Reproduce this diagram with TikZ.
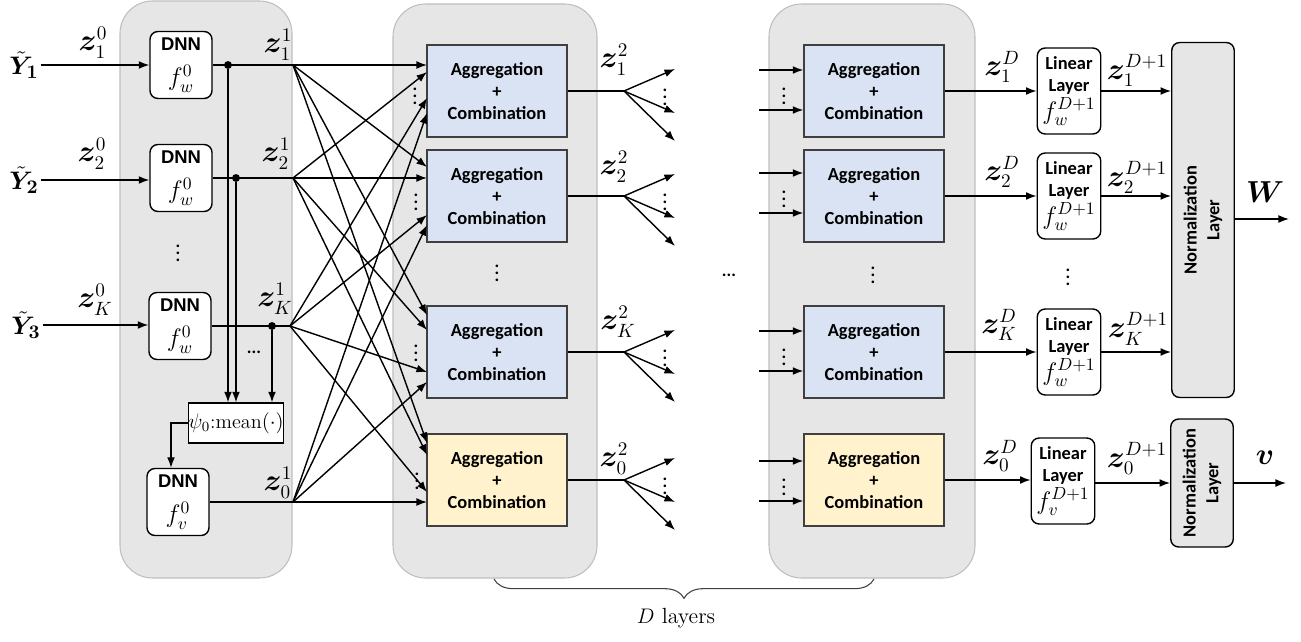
\documentclass[tikz,border=0pt]{standalone}
\usepackage{amsmath}
\usepackage{bm}
\usepackage{fontspec}
\newfontfamily\calib{Carlito}
\newfontfamily\arialf{Liberation Sans}
\usetikzlibrary{arrows.meta,decorations.pathreplacing}
\definecolor{panelgray}{HTML}{E7E6E6}
\definecolor{paneledge}{HTML}{BFBFBF}
\definecolor{aggblue}{HTML}{DAE3F3}
\definecolor{aggyellow}{HTML}{FFF2CC}
\definecolor{boxedge}{HTML}{3F3F3F}
\newcommand{\boxfont}{\calib\bfseries\fontsize{10.5}{12.5}\selectfont}
\newcommand{\dnntxt}{{\arialf\bfseries\fontsize{10.5}{12}\selectfont DNN}}
\tikzset{
    arr/.style={-{Latex[length=6pt,width=4.5pt]}, line width=0.8pt},
    ln/.style={line width=0.8pt},
    panel/.style={fill=panelgray, draw=paneledge, line width=0.6pt,
    	rounded corners=0.65cm},
    dnn/.style={draw, fill=white, rounded corners=4.5pt, line width=0.8pt,
    	minimum width=1.24cm, minimum height=1.34cm, inner sep=0pt,
    	align=center, font=\fontsize{14}{16}\selectfont},
    agg/.style={draw=boxedge, fill=aggblue, line width=0.8pt,
    	minimum width=2.8cm, minimum height=1.84cm, align=center, font=\boxfont},
    lin/.style={draw, fill=white, rounded corners=4.5pt, line width=0.8pt,
    	minimum width=1.27cm, minimum height=1.72cm, inner sep=0pt,
    	align=center, font=\boxfont},
    norm/.style={draw, fill=panelgray, rounded corners=4.5pt, line width=0.8pt,
    	minimum width=1.25cm},
    normtxt/.style={rotate=90, align=center, font=\calib\bfseries\fontsize{10.5}{13}\selectfont},
    zlab/.style={font=\fontsize{16}{18}\selectfont, inner sep=0pt},
    ylab/.style={font=\fontsize{15}{18}\selectfont, inner sep=1pt},
    vdot/.style={font=\calib\bfseries\fontsize{10}{12}\selectfont, inner sep=0pt},
    junction/.style={circle, fill, inner sep=0pt, minimum size=4.5pt}
}

\begin{document}
\begin{tikzpicture}[x=0.02cm, y=-0.02cm]
  \useasboundingbox (0,0) rectangle (1301,642);
  % panels
  \draw[panel] (120,1) rectangle (292,578);
  \draw[panel] (393,4) rectangle (597,578);
  \draw[panel] (769,4) rectangle (975,578);

  % input layer
  \node (y1) [ylab] at (24,65) {$\bm{\tilde{Y}_1}$};
  \node (y2) [ylab] at (24,180) {$\bm{\tilde{Y}_2}$};
  \node (y3) [ylab] at (26,325) {$\bm{\tilde{Y}_3}$};
  \node (dnn1) [dnn] at (181,65) {\dnntxt\\[4pt]$f_w^0$};
  \node (dnn2) [dnn] at (181,178) {\dnntxt\\[4pt]$f_w^0$};
  \node (dnnK) [dnn] at (180,326) {\dnntxt\\[4pt]$f_w^0$};
  \node (dnnv) [dnn] at (178,502) {\dnntxt\\[4pt]$f_v^0$};
  \node (mean) [draw, fill=white, line width=0.8pt, minimum width=1.88cm,
  	minimum height=0.8cm, inner sep=0pt, font=\fontsize{11.5}{13}\selectfont]
  	at (236,423) {$\psi_0$:mean$(\cdot)$};
  \node (vdl) [vdot] at (178,248) {$\vdots$};
  \node (hdl) [vdot] at (254,352) {...};

  \node (z10) [zlab] at (93,43) {$\bm{z}_1^0$};
  \node (z20) [zlab] at (92,154) {$\bm{z}_2^0$};
  \node (zK0) [zlab] at (95,300) {$\bm{z}_K^0$};
  \node (z11) [zlab] at (278,45) {$\bm{z}_1^1$};
  \node (z21) [zlab] at (276,154) {$\bm{z}_2^1$};
  \node (zK1) [zlab] at (275,299) {$\bm{z}_K^1$};
  \node (z01) [zlab] at (278,483) {$\bm{z}_0^1$};

  \draw[arr] (y1) -- (dnn1);
  \draw[arr] (y2) -- (y2 -| dnn2.west);
  \draw[arr] (y3) -- (y3 -| dnnK.west);

  \coordinate (s1) at (293,65);
  \coordinate (s2) at (293,178);
  \coordinate (sK) at (290,326);
  \coordinate (s0) at (293,502);
  \draw[ln] (dnn1.east) -- (s1);
  \draw[ln] (dnn2.east) -- (s2);
  \draw[ln] (dnnK.east) -- (sK);
  \draw[ln] (dnnv.east) -- (s0);
  \node (d1) [junction] at (228,65) {};
  \node (d2) [junction] at (236,178) {};
  \node (dK) [junction] at (272,326) {};
  \draw[arr] (d1) -- (d1 |- mean.north);
  \draw[arr] (d2) -- (d2 |- mean.north);
  \draw[arr] (dK) -- (dK |- mean.north);
  \coordinate (mt) at (171,423);
  \draw[arr] (mean.west) -- (mt) -- (mt |- dnnv.north);

  % first aggregation layer
  \node (agg1) [agg] at (497,91) {Aggregation\\+\\Combination};
  \node (agg2) [agg] at (497,196) {Aggregation\\+\\Combination};
  \node (aggK) [agg] at (497,352) {Aggregation\\+\\Combination};
  \node (agg0) [agg, fill=aggyellow] at (497,480) {Aggregation\\+\\Combination};
  \node (vdm) [vdot] at (497,268) {$\vdots$};

  \foreach \b/\ya/\yb/\yc/\yd in {1/65/72/98/113, 2/167/178/215/225,
  	K/315/330/372/382, 0/443/455/492/502} {
    \coordinate (i\b1) at (427,\ya);
    \coordinate (i\b2) at (427,\yb);
    \coordinate (i\b3) at (427,\yc);
    \coordinate (i\b4) at (427,\yd);
  }
  \foreach \b in {1,2,K,0} {
    \draw[arr] (s1) -- (i\b1);
    \draw[arr] (s2) -- (i\b2);
    \draw[arr] (sK) -- (i\b3);
    \draw[arr] (s0) -- (i\b4);
  }
  \node (vi1) [vdot] at (415,91) {$\vdots$};
  \node (vi2) [vdot] at (416,197) {$\vdots$};
  \node (viK) [vdot] at (416,348) {$\vdots$};
  \node (vi0) [vdot] at (417,476) {$\vdots$};

  \foreach \b/\y in {1/91, 2/196, K/352, 0/480} {
    \coordinate (f\b) at (624,\y);
    \coordinate (ta\b) at (675,{\y-22});
    \coordinate (tb\b) at (675,{\y+22});
    \coordinate (tc\b) at (675,{\y+50});
    \draw[ln] (agg\b.east) -- (f\b);
    \draw[arr] (f\b) -- (ta\b);
    \draw[arr] (f\b) -- (tb\b);
    \draw[arr] (f\b) -- (tc\b);
    \node (vf\b) [vdot] at (665,{\y+1}) {$\vdots$};
  }
  \node (z12) [zlab] at (614,60) {$\bm{z}_1^2$};
  \node (z22) [zlab] at (614,167) {$\bm{z}_2^2$};
  \node (zK2) [zlab] at (618,322) {$\bm{z}_K^2$};
  \node (z02) [zlab] at (614,459) {$\bm{z}_0^2$};
  \node (hdm) [vdot] at (729,275) {...};

  % last aggregation layer
  \node (aggD1) [agg] at (874,91) {Aggregation\\+\\Combination};
  \node (aggD2) [agg] at (874,196) {Aggregation\\+\\Combination};
  \node (aggDK) [agg] at (874,352) {Aggregation\\+\\Combination};
  \node (aggD0) [agg, fill=aggyellow] at (874,480) {Aggregation\\+\\Combination};
  \node (vdr) [vdot] at (873,270) {$\vdots$};
  \foreach \b/\y in {1/91, 2/194, K/352, 0/482} {
    \coordinate (ra\b) at (759,{\y-21});
    \coordinate (rb\b) at (759,{\y+19});
    \draw[arr] (ra\b) -- (ra\b -| aggD\b.west);
    \draw[arr] (rb\b) -- (rb\b -| aggD\b.west);
    \node (vr\b) [vdot] at (784,\y) {$\vdots$};
  }

  % output layers
  \node (lin1) [lin] at (1069,91) {Linear\\Layer\\[1pt]{\fontsize{14}{16}\selectfont$f_w^{D+1}$}};
  \node (lin2) [lin] at (1069,196) {Linear\\Layer\\[1pt]{\fontsize{14}{16}\selectfont$f_w^{D+1}$}};
  \node (linK) [lin] at (1069,352) {Linear\\Layer\\[1pt]{\fontsize{14}{16}\selectfont$f_w^{D+1}$}};
  \node (lin0) [lin] at (1063,481) {Linear\\Layer\\[1pt]{\fontsize{14}{16}\selectfont$f_v^{D+1}$}};
  \node (vdo) [vdot] at (1068,272) {$\vdots$};
  \node (normW) [norm, minimum height=7.1cm] at (1203,220) {};
  \node (normWt) [normtxt] at (normW) {Normalization\\Layer};
  \node (normv) [norm, minimum height=2.56cm] at (1202,483) {};
  \node (normvt) [normtxt] at (normv) {Normalization\\Layer};

  \foreach \b in {1,2,K} {
    \draw[arr] (aggD\b.east) -- (lin\b.west);
    \draw[arr] (lin\b.east) -- (lin\b.east -| normW.west);
  }
  \draw[arr] (aggD0.east) -- (aggD0.east -| lin0.west);
  \draw[arr] (lin0.east |- normv) -- (normv.west);
  \coordinate (wout) at (1289,219);
  \coordinate (vout) at (1286,483);
  \draw[arr] (normW.east |- wout) -- (wout);
  \draw[arr] (normv.east) -- (vout);
  \node (wlab) [zlab, font=\fontsize{18}{20}\selectfont] at (1265,192) {$\bm{W}$};
  \node (vlab) [zlab] at (1265,458) {$\bm{v}$};

  \node (z1D) [zlab] at (1002,67) {$\bm{z}_1^D$};
  \node (z2D) [zlab] at (1002,172) {$\bm{z}_2^D$};
  \node (zKD) [zlab] at (999,325) {$\bm{z}_K^D$};
  \node (z0D) [zlab] at (1000,456) {$\bm{z}_0^D$};
  \node (z1E) [zlab] at (1137,70) {$\bm{z}_1^{D+1}$};
  \node (z2E) [zlab] at (1137,177) {$\bm{z}_2^{D+1}$};
  \node (zKE) [zlab] at (1138,329) {$\bm{z}_K^{D+1}$};
  \node (z0E) [zlab] at (1137,458) {$\bm{z}_0^{D+1}$};

  % brace
  \coordinate (bl) at (494,579);
  \coordinate (br) at (874,579);
  \draw[line width=0.6pt, black!75, decorate,
  	decoration={brace, mirror, amplitude=11pt}] (bl) -- (br);
  \node (dlab) [font=\fontsize{12.5}{14}\selectfont] at (676,618) {$D$ layers};
\end{tikzpicture}
\end{document}
